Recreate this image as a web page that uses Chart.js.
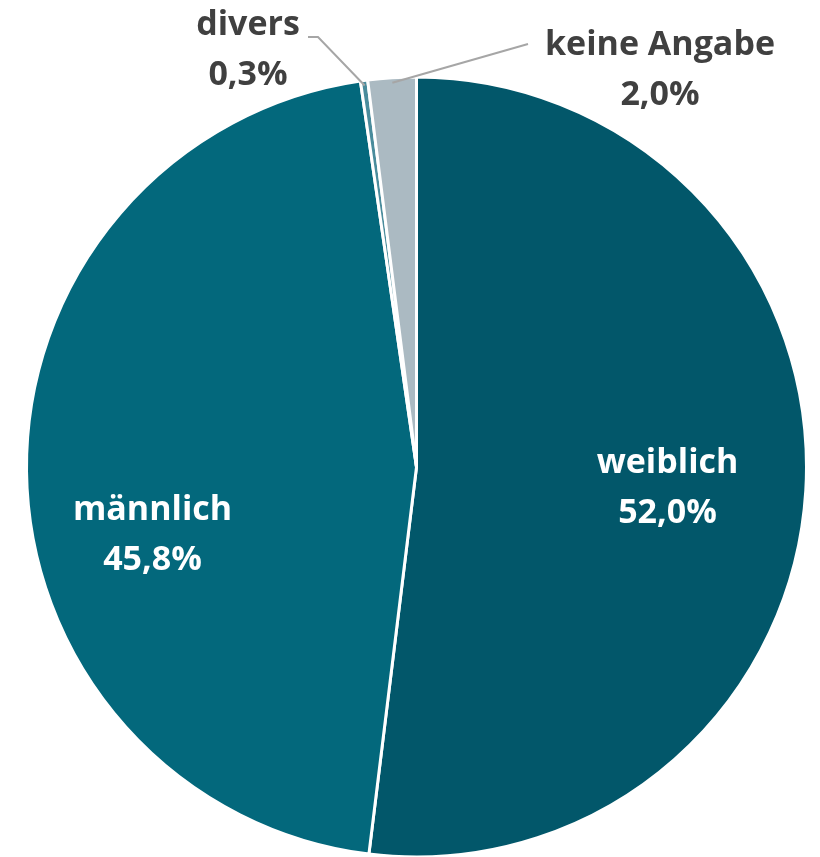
<!DOCTYPE html>
<html>
<head>
<meta charset="utf-8">
<script src="https://cdn.jsdelivr.net/npm/chart.js@4"></script>
<style>
  html, body { margin: 0; padding: 0; background: #fff; }
  #wrap { width: 820px; height: 857px; }
</style>
</head>
<body>
<div id="wrap"><canvas id="genderChart" width="820" height="857"></canvas></div>
<script>
// Data
const categories = ['weiblich', 'männlich', 'divers', 'keine Angabe'];
const shares = [52.0, 45.8, 0.3, 2.0];
const sliceColors = ['#02576A', '#03687C', '#4A8C9C', '#ABBAC2'];

// label placement (layout only): inside labels as offset from centre,
// outside labels with leader line elbow + text position
const labelLayout = [
    { inside: true, dx: 251, dy: 21 },
    { inside: true, dx: -264, dy: 68 },
    { inside: false, elbow: [318, 37], end: [308, 37], text: [248, 25] },
    { inside: false, elbow: null, end: [528, 44], text: [660, 45] }
];

function fmt(v) {
    return v.toFixed(1).replace('.', ',') + '%';
}

const pieLabels = {
    id: 'pieLabels',
    afterDatasetsDraw(chart) {
        const ctx = chart.ctx;
        const meta = chart.getDatasetMeta(0);
        ctx.save();
        ctx.textAlign = 'center';
        ctx.textBaseline = 'middle';
        ctx.font = 'bold 34px "Open Sans", "Noto Sans", sans-serif';
        meta.data.forEach((arc, i) => {
            const lay = labelLayout[i];
            const p = arc.getProps(['x', 'y', 'startAngle', 'endAngle', 'outerRadius'], true);
            const name = categories[i];
            const val = fmt(shares[i]);
            if (lay.inside) {
                const cx = p.x + lay.dx, cy = p.y + lay.dy;
                ctx.fillStyle = '#ffffff';
                ctx.fillText(name, cx, cy - 25);
                ctx.fillText(val, cx, cy + 25);
            } else {
                const mid = (p.startAngle + p.endAngle) / 2;
                const r = p.outerRadius - 5;
                const sx = p.x + Math.cos(mid) * r;
                const sy = p.y + Math.sin(mid) * r;
                ctx.strokeStyle = '#A6A6A6';
                ctx.lineWidth = 2;
                ctx.beginPath();
                ctx.moveTo(sx, sy);
                if (lay.elbow) ctx.lineTo(lay.elbow[0], lay.elbow[1]);
                ctx.lineTo(lay.end[0], lay.end[1]);
                ctx.stroke();
                ctx.fillStyle = '#404040';
                ctx.fillText(name, lay.text[0], lay.text[1]);
                ctx.fillText(val, lay.text[0], lay.text[1] + 50);
            }
        });
        ctx.restore();
    }
};

const ctx = document.getElementById('genderChart').getContext('2d');
const genderChart = new Chart(ctx, {
    type: 'pie',
    data: {
        labels: categories,
        datasets: [{
            data: shares,
            backgroundColor: sliceColors,
            borderColor: '#ffffff',
            borderWidth: 3
        }]
    },
    options: {
        responsive: false,
        animation: false,
        radius: 390,
        layout: {
            padding: { left: 13, right: 0, top: 77, bottom: 0 }
        },
        plugins: {
            legend: { display: false },
            tooltip: { enabled: false }
        }
    },
    plugins: [pieLabels]
});
</script>
</body>
</html>
